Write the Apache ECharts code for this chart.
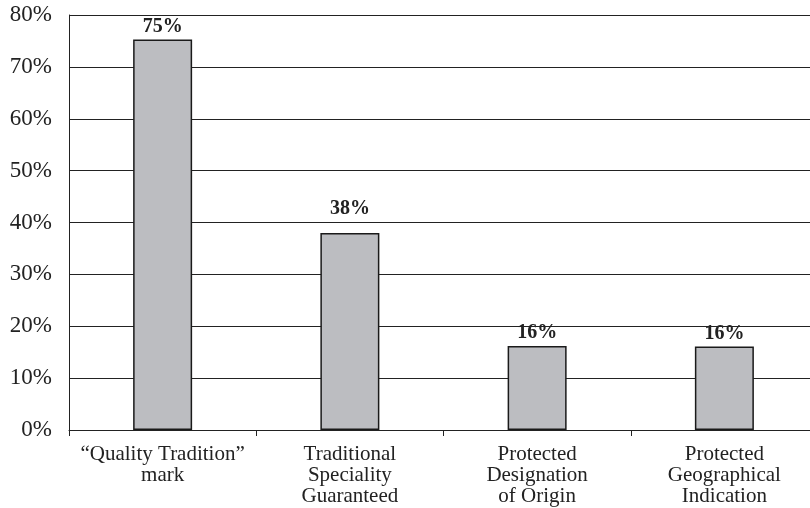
<!DOCTYPE html>
<html><head><meta charset="utf-8">
<script src="https://cdn.jsdelivr.net/npm/echarts@6/dist/echarts.min.js"></script>
<style>html,body{margin:0;padding:0;background:#fff}#c{width:810px;height:508px}</style>
</head><body><div id="c"></div>
<script>
var categories = ['\u201cQuality Tradition\u201d\nmark', 'Traditional\nSpeciality\nGuaranteed', 'Protected\nDesignation\nof Origin', 'Protected\nGeographical\nIndication'];
var values = [75.3, 38.0, 16.2, 16.1];
var valueLabels = ['75%', '38%', '16%', '16%'];
var yTicks = [0, 10, 20, 30, 40, 50, 60, 70, 80];
var font = '"Liberation Serif", "Times New Roman", serif';
var chart = echarts.init(document.getElementById('c'));
var labelDist = [3, 14, 3, 3];
chart.setOption({
  animation: false,
  grid: {left: 69, top: 15, width: 749, height: 415, containLabel: false, outerBoundsMode: 'none'},
  xAxis: {
    type: 'category', data: categories,
    axisLine: {show: true, lineStyle: {color: '#222', width: 1}},
    axisTick: {show: true, length: 6, lineStyle: {color: '#222'}},
    axisLabel: {fontFamily: font, fontSize: 21, color: '#222', lineHeight: 21, margin: 14, interval: 0},
    splitLine: {show: false}
  },
  yAxis: {
    type: 'value', min: 0, max: 80, interval: 10,
    axisLine: {show: true, lineStyle: {color: '#222', width: 1}},
    axisTick: {show: false},
    axisLabel: {fontFamily: font, fontSize: 23, color: '#222', margin: 17, formatter: function(v){ return yTicks.indexOf(v) >= 0 ? v + '%' : ''; }},
    splitLine: {show: true, lineStyle: {color: '#222', width: 1}}
  },
  series: [{
    type: 'bar', barWidth: 59,
    data: values.map(function(v, i){ return {value: v, label: {distance: labelDist[i]}}; }),
    itemStyle: {color: '#bcbdc1', borderColor: '#1a1a1a', borderWidth: 1.5},
    label: {show: true, position: 'top', fontFamily: font, fontSize: 20, fontWeight: 'bold', color: '#222',
      formatter: function(p){ return valueLabels[p.dataIndex]; }}
  }]
});
</script></body></html>
